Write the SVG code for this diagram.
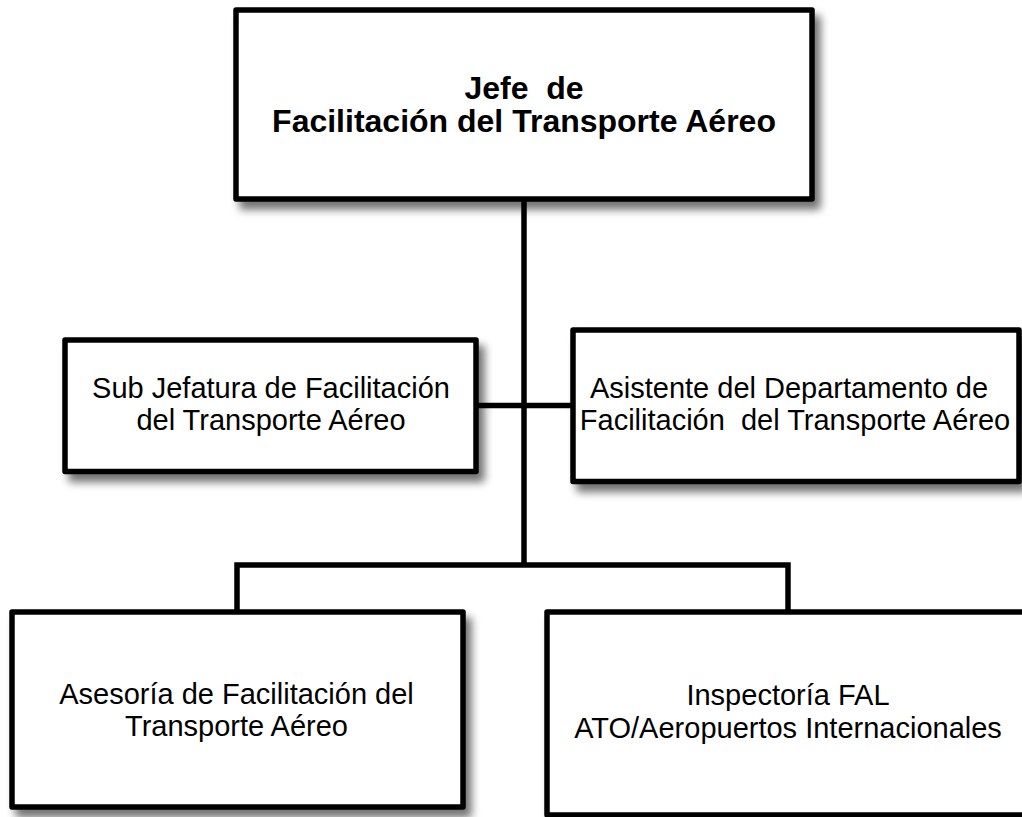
<svg xmlns="http://www.w3.org/2000/svg" width="1022" height="817" viewBox="0 0 1022 817">
<defs>
<filter id="sh" x="-10%" y="-10%" width="130%" height="140%">
<feGaussianBlur in="SourceAlpha" stdDeviation="4"/>
<feOffset dx="6" dy="8" result="b"/>
<feComponentTransfer><feFuncA type="linear" slope="0.55"/></feComponentTransfer>
<feMerge><feMergeNode/><feMergeNode in="SourceGraphic"/></feMerge>
</filter>
<style>
.box{fill:#fff;stroke:#000;stroke-width:5.5;stroke-linejoin:round;filter:url(#sh)}
.t{font-family:"Liberation Sans",Arial,sans-serif;font-size:29px;fill:#000;text-anchor:middle}
.b{font-weight:bold;font-size:32px}
.c{fill:none;stroke:#000;stroke-width:5.5;stroke-linejoin:miter}
</style>
</defs>
<rect width="1022" height="817" fill="#fff"/>
<g id="connectors">
<path class="c" d="M524,199 V565"/>
<path class="c" d="M476,405.5 H573"/>
<path class="c" d="M237,612 V565 H788 V612"/>
</g>
<g id="jefe">
<rect class="box" x="236" y="10" width="576" height="189"/>
<text class="t b" xml:space="preserve" x="524" y="99">Jefe  de</text>
<text class="t b" x="524" y="132">Facilitación del Transporte Aéreo</text>
</g>
<g id="subjefatura">
<rect class="box" x="65" y="340" width="411" height="131.5"/>
<text class="t" x="271" y="397.5">Sub Jefatura de Facilitación</text>
<text class="t" x="271" y="430">del Transporte Aéreo</text>
</g>
<g id="asistente">
<rect class="box" x="573" y="330" width="446" height="151.5"/>
<text class="t" x="789" y="397.5">Asistente del Departamento de</text>
<text class="t" xml:space="preserve" x="795" y="430">Facilitación  del Transporte Aéreo</text>
</g>
<g id="asesoria">
<rect class="box" x="12" y="612" width="451" height="195"/>
<text class="t" x="236.5" y="703.5">Asesoría de Facilitación del</text>
<text class="t" x="236.5" y="736">Transporte Aéreo</text>
</g>
<g id="inspectoria">
<rect class="box" x="547" y="612" width="482" height="203"/>
<text class="t" x="788" y="705">Inspectoría FAL</text>
<text class="t" x="788" y="737.5">ATO/Aeropuertos Internacionales</text>
</g>
</svg>
